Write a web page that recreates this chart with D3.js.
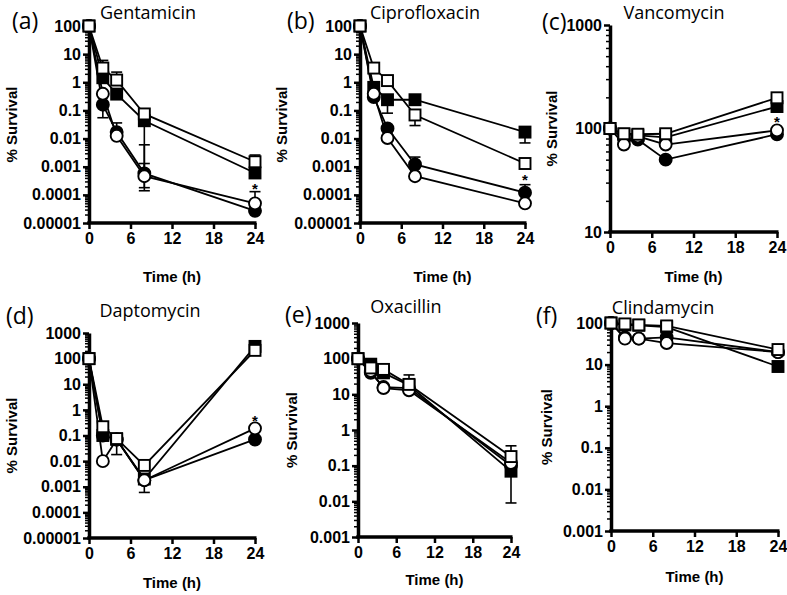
<!DOCTYPE html>
<html>
<head>
<meta charset="utf-8">
<script src="https://cdn.jsdelivr.net/npm/d3@7"></script>
<style>
body { margin: 0; background: #fff; }
svg { display: block; }
.tick text { font-family: "Liberation Sans", Arial, sans-serif; font-weight: bold; font-size: 16px; fill: #000; }
.axtitle { font-family: "Liberation Sans", Arial, sans-serif; font-weight: bold; font-size: 15px; }
.drug { font-family: "Open Sans", sans-serif; font-size: 18px; }
.letter { font-family: "Open Sans", sans-serif; font-size: 23px; }
</style>
</head>
<body>
<svg id="chart" width="787" height="595"></svg>
<script>
// sampling times (h) and axis ticks
var times = [0, 2, 4, 8, 24];
var xTickVals = [0, 6, 12, 18, 24];

var drugNames = ["Gentamicin", "Ciprofloxacin", "Vancomycin", "Daptomycin", "Oxacillin", "Clindamycin"];
var panelLetters = ["(a)", "(b)", "(c)", "(d)", "(e)", "(f)"];
var yDomains = [[1e-5, 100], [1e-5, 100], [10, 1000], [1e-5, 1000], [1e-3, 1000], [1e-3, 100]];

// % survival, series order: filled square, open square, filled circle, open circle
var gentamicin = [
  [100, 1.45, 0.38, 0.043, 0.0006],
  [100, 3.2, 1.2, 0.075, 0.0015],
  [100, 0.16, 0.017, 0.00058, 0.000027],
  [100, 0.39, 0.0125, 0.00046, 0.00005]
];
var ciprofloxacin = [
  [100, 0.66, 0.24, 0.24, 0.017],
  [100, 3.2, 1.15, 0.069, 0.0013],
  [100, 0.3, 0.023, 0.0012, 0.00012],
  [100, 0.39, 0.0105, 0.00046, 0.00005]
];
var vancomycin = [
  [100, 88, 86, 82, 163],
  [100, 89, 88, 89, 198],
  [100, 80, 78, 50, 88],
  [100, 70, 84, 70, 96]
];
var daptomycin = [
  [100, 0.1, 0.07, 0.002, 300],
  [100, 0.22, 0.076, 0.0068, 210],
  [100, 0.1, 0.07, 0.0018, 0.07],
  [100, 0.01, 0.07, 0.0018, 0.19]
];
var oxacillin = [
  [100, 70, 40, 18, 0.07],
  [100, 55, 50, 19, 0.18],
  [100, 40, 16, 15, 0.1],
  [100, 45, 15, 13, 0.12]
];
var clindamycin = [
  [100, 90, 88, 80, 9],
  [100, 95, 90, 85, 23],
  [100, 45, 42, 45, 20],
  [100, 42, 42, 33, 20]
];

// error bars: [series, time index, end value]
var gentamicinErr = [[1, 1, 6], [1, 2, 2.3], [2, 1, 0.055], [2, 2, 0.036], [1, 3, 0.11],
  [0, 3, 0.00014], [2, 3, 0.006], [2, 3, 0.00018], [3, 3, 0.0013], [1, 4, 0.0026], [3, 4, 0.00013]];
var ciprofloxacinErr = [[0, 2, 0.35], [0, 2, 0.08], [0, 3, 0.36], [1, 3, 0.029], [2, 3, 0.0022],
  [0, 4, 0.007], [2, 4, 0.00023]];
var vancomycinErr = [];
var daptomycinErr = [[1, 2, 0.018], [2, 3, 0.0006], [0, 4, 400]];
var oxacillinErr = [[1, 3, 35], [1, 4, 0.36], [0, 4, 0.009]];
var clindamycinErr = [];

// asterisk positions [time, value], null when none
var starMarks = [[24, 0.00022], [24, 0.00046], [24, 127], [24, 0.55], null, null];

var allVals = [gentamicin, ciprofloxacin, vancomycin, daptomycin, oxacillin, clindamycin];
var allErrs = [gentamicinErr, ciprofloxacinErr, vancomycinErr, daptomycinErr, oxacillinErr, clindamycinErr];

// layout of each panel (pixels)
var boxes = [
  {l: 89, r: 255, t: 26, b: 223, lx: 12, ly: 29, tx: 148, ty: 19, yl: 12, xt: 282},
  {l: 360, r: 525, t: 26, b: 223, lx: 287, ly: 29, tx: 425, ty: 19, yl: 282, xt: 282},
  {l: 610, r: 777, t: 25, b: 232, lx: 542, ly: 30, tx: 674, ty: 19, yl: 552, xt: 282},
  {l: 89, r: 255, t: 333, b: 538, lx: 6, ly: 324, tx: 150, ty: 317, yl: 12, xt: 588},
  {l: 358, r: 511, t: 323, b: 537, lx: 285, ly: 323, tx: 406, ty: 313, yl: 292, xt: 585},
  {l: 611, r: 778, t: 323, b: 531, lx: 536, ly: 324, tx: 663, ty: 314, yl: 547, xt: 582}
];

var svg = d3.select("#chart");

function fmt(v) {
  var e = Math.round(Math.log10(v));
  if (e >= 0) return String(Math.round(Math.pow(10, e)));
  return "0." + "0".repeat(-e - 1) + "1";
}

allVals.forEach(function(vals, i) {
  var b = boxes[i];
  var dom = yDomains[i];
  var x = d3.scaleLinear().domain([0, 24]).range([b.l, b.r]);
  var y = d3.scaleLog().domain(dom).range([b.b, b.t]);
  var g = svg.append("g");

  // ticks
  var e0 = Math.round(Math.log10(dom[0])), e1 = Math.round(Math.log10(dom[1]));
  var majors = [], minors = [];
  for (var e = e0; e <= e1; e++) {
    majors.push(Math.pow(10, e));
    if (e < e1) for (var k = 2; k <= 9; k++) minors.push(k * Math.pow(10, e));
  }

  var minorAx = g.append("g").attr("transform", "translate(" + b.l + ",0)")
    .call(d3.axisLeft(y).tickValues(minors).tickSize(4).tickSizeOuter(0).tickFormat(""));
  minorAx.select(".domain").remove();
  minorAx.selectAll(".tick line").attr("stroke-width", 1.5);

  var yAx = g.append("g").attr("transform", "translate(" + b.l + ",0)")
    .call(d3.axisLeft(y).tickValues(majors).tickSize(6).tickSizeOuter(0).tickPadding(2).tickFormat(fmt));
  yAx.select(".domain").attr("stroke-width", 3.5);
  yAx.selectAll(".tick line").attr("stroke-width", 2.5);

  var xAx = g.append("g").attr("transform", "translate(0," + b.b + ")")
    .call(d3.axisBottom(x).tickValues(xTickVals).tickSize(6).tickSizeOuter(0).tickPadding(4));
  xAx.select(".domain").attr("stroke-width", 3.5).attr("d", "M" + (b.l - 1.75) + ",0H" + (b.r + 1.5));
  xAx.selectAll(".tick line").attr("stroke-width", 2.5);

  // lines
  var line = d3.line().x(function(d, j) { return x(times[j]); }).y(function(d) { return y(d); });
  g.selectAll(".ser").data(vals).enter().append("path")
    .attr("d", line).attr("fill", "none").attr("stroke", "#000").attr("stroke-width", 1.8);

  // error bars
  allErrs[i].forEach(function(er) {
    var xx = x(times[er[1]]), y0 = y(vals[er[0]][er[1]]), y1 = y(er[2]);
    g.append("line").attr("x1", xx).attr("x2", xx).attr("y1", y0).attr("y2", y1)
      .attr("stroke", "#000").attr("stroke-width", 1.6);
    g.append("line").attr("x1", xx - 5.5).attr("x2", xx + 5.5).attr("y1", y1).attr("y2", y1)
      .attr("stroke", "#000").attr("stroke-width", 1.6);
  });

  // markers: filled square, filled circle, open circle, open square
  [0, 2, 3, 1].forEach(function(s) {
    var filled = (s == 0 || s == 2);
    var sq = (s == 0 || s == 1);
    vals[s].forEach(function(v, j) {
      var m;
      if (sq) {
        m = g.append("rect").attr("x", x(times[j]) - 5.5).attr("y", y(v) - 5.5).attr("width", 11).attr("height", 11);
      } else {
        m = g.append("circle").attr("cx", x(times[j])).attr("cy", y(v)).attr("r", 6);
      }
      m.attr("fill", filled ? "#000" : "#fff").attr("stroke", "#000").attr("stroke-width", 1.9);
    });
  });

  if (starMarks[i]) {
    g.append("text").attr("class", "axtitle").attr("text-anchor", "middle")
      .attr("x", x(starMarks[i][0])).attr("y", y(starMarks[i][1]) + 9).text("*");
  }

  // texts
  g.append("text").attr("class", "letter").attr("x", b.lx).attr("y", b.ly).text(panelLetters[i]);
  g.append("text").attr("class", "drug").attr("text-anchor", "middle").attr("x", b.tx).attr("y", b.ty).text(drugNames[i]);
  g.append("text").attr("class", "axtitle").attr("text-anchor", "middle")
    .attr("x", (b.l + b.r) / 2).attr("y", b.xt).text("Time (h)");
  g.append("text").attr("class", "axtitle").attr("text-anchor", "middle")
    .attr("transform", "translate(" + (b.yl + 5) + "," + ((b.t + b.b) / 2) + ") rotate(-90)")
    .text("% Survival");
});
</script>
</body>
</html>
